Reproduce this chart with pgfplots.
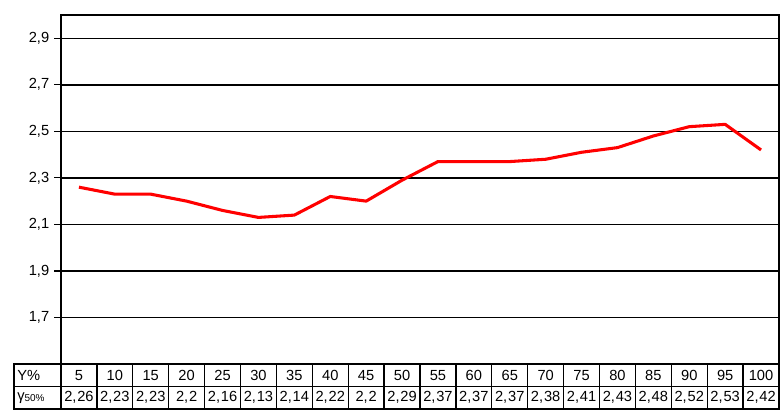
\documentclass[border=0pt]{standalone}
\usepackage{pgfplots}
\pgfplotsset{compat=1.18}
\usepackage{pgfplotstable}
\usepackage{fontspec}
\setmainfont{Liberation Sans}
\pgfplotstableread{
x y
1 2.26
2 2.23
3 2.23
4 2.2
5 2.16
6 2.13
7 2.14
8 2.22
9 2.2
10 2.29
11 2.37
12 2.37
13 2.37
14 2.38
15 2.41
16 2.43
17 2.48
18 2.52
19 2.53
20 2.42
}\datatable
\begin{document}
\fontsize{11}{13}\selectfont
\begin{tikzpicture}[x=1pt,y=1pt]
\useasboundingbox (-45.75,-40.5) rectangle (542.25,273);
\begin{axis}[
  at={(0,0)}, anchor=south west,
  scale only axis, width=538.5pt, height=261.75pt,
  xmin=0.5, xmax=20.5, ymin=1.5, ymax=3.0,
  xtick=\empty,
  ytick={1.7,1.9,2.1,2.3,2.5,2.7,2.9},
  ymajorgrids, grid style={black, line width=1.1pt},
  axis line style={line width=1.3pt},
  tick style={black, line width=0.9pt},
  major tick length=5pt, tick align=outside, ytick pos=left,
  /pgf/number format/.cd, fixed, fixed zerofill, precision=1, use comma, assume math mode=true,
  /pgfplots/.cd,
  ticklabel style={font=\fontsize{11}{13}\selectfont},
  clip=false,
]
\addplot[red, line width=2.3pt, line join=round] table[x=x,y=y] {\datatable};
\end{axis}
\def\W{26.925}
\draw[line width=1.1pt] (-35.25,0) rectangle (538.5,-33.75);
\draw[line width=1pt] (-35.25,-16.9) -- (538.5,-16.9);
\draw[line width=1.1pt] (0,0) -- (0,-33.75);
\foreach \i in {1,...,19} { \draw[line width=1pt] (\i*\W,0) -- (\i*\W,-33.75); }
\node[anchor=west, inner sep=0pt] at (-33,-8.45) {Y\%};
\node[anchor=west, inner sep=0pt] at (-33,-25.3) {γ\raisebox{-0.2ex}{\fontsize{7.5}{8}\selectfont 50\%}};
\foreach \a/\b [count=\i] in {5/{2,\kern0.6pt26},10/{2,\kern0.6pt23},15/{2,\kern0.6pt23},20/{2,\kern0.6pt2},25/{2,\kern0.6pt16},30/{2,\kern0.6pt13},35/{2,\kern0.6pt14},40/{2,\kern0.6pt22},45/{2,\kern0.6pt2},50/{2,\kern0.6pt29},55/{2,\kern0.6pt37},60/{2,\kern0.6pt37},65/{2,\kern0.6pt37},70/{2,\kern0.6pt38},75/{2,\kern0.6pt41},80/{2,\kern0.6pt43},85/{2,\kern0.6pt48},90/{2,\kern0.6pt52},95/{2,\kern0.6pt53},100/{2,\kern0.6pt42}} {
  \node[inner sep=0pt] at ({(\i-0.5)*\W},-8.45) {\a};
  \node[inner sep=0pt] at ({(\i-0.5)*\W},-25.3) {\b};
}
\end{tikzpicture}
\end{document}
